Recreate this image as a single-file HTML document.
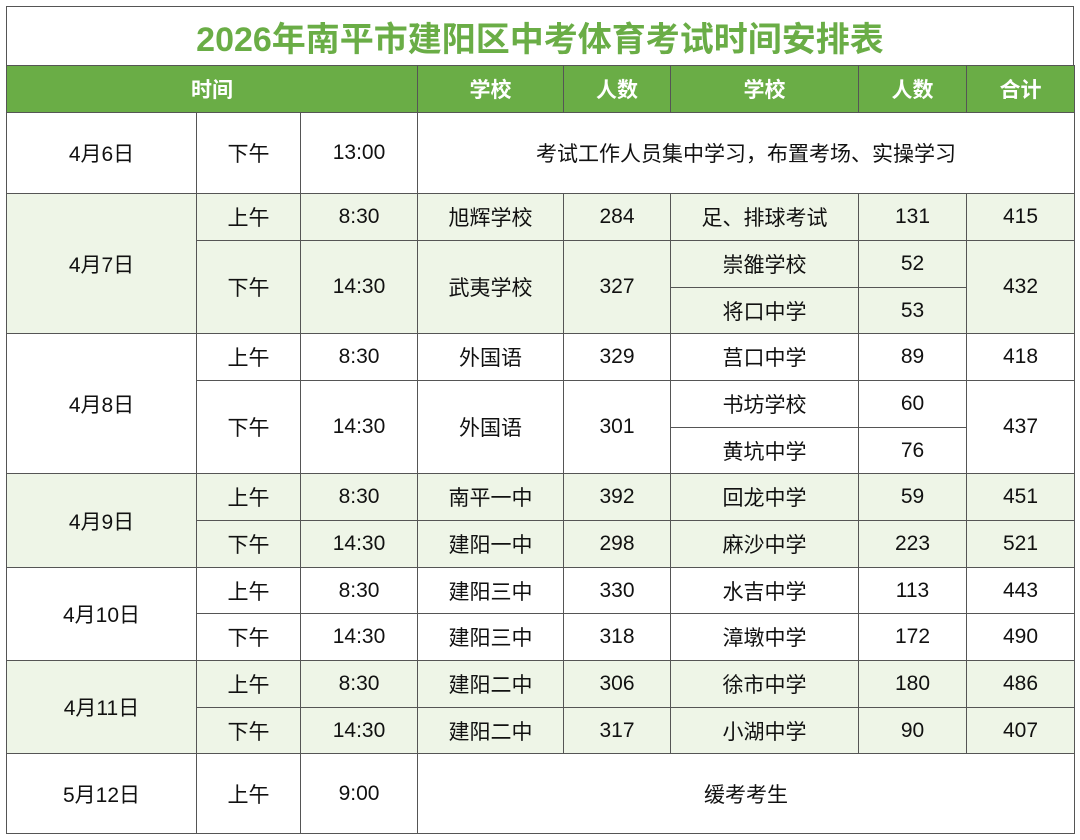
<!DOCTYPE html>
<html><head><meta charset="utf-8">
<style>
html,body{margin:0;padding:0;background:#fff;}
#wrap{position:relative;width:1080px;height:840px;overflow:hidden;background:#fff;font-family:"Liberation Sans","Noto Sans CJK SC",sans-serif;}
.cell{position:absolute;box-sizing:border-box;display:flex;align-items:center;justify-content:center;font-size:21px;color:#111;border:1px solid #555;margin:0;}
.hd{background:#6aad46;color:#fff;font-weight:bold;font-size:21px;}
#title{position:absolute;left:6px;top:6px;width:1068px;height:60px;box-sizing:border-box;border:1px solid #555;display:flex;align-items:center;justify-content:center;color:#6aad46;font-weight:bold;font-size:34px;}
.shade{position:absolute;background:#eef5e7;}
</style></head>
<body>
<div id="wrap">
<div id="title">2026年南平市建阳区中考体育考试时间安排表</div>
</div>
<script>
const X=[6,196,300,417,563,670,858,966,1074];
const Y=[112,193,240,287,333,380,427,473,520,567,613,660,707,753,833];
const shadeGroups=[[1,4],[7,9],[11,13]];
const headers=[[0,3,"时间"],[3,4,"学校"],[4,5,"人数"],[5,6,"学校"],[6,7,"人数"],[7,8,"合计"]];
const cells=[
[0,1,0,1,"4月6日"],[1,2,0,1,"下午"],[2,3,0,1,"13:00"],[3,8,0,1,"考试工作人员集中学习，布置考场、实操学习"],
[0,1,1,4,"4月7日"],[1,2,1,2,"上午"],[2,3,1,2,"8:30"],[3,4,1,2,"旭辉学校"],[4,5,1,2,"284"],[5,6,1,2,"足、排球考试"],[6,7,1,2,"131"],[7,8,1,2,"415"],
[1,2,2,4,"下午"],[2,3,2,4,"14:30"],[3,4,2,4,"武夷学校"],[4,5,2,4,"327"],[5,6,2,3,"崇雒学校"],[6,7,2,3,"52"],[5,6,3,4,"将口中学"],[6,7,3,4,"53"],[7,8,2,4,"432"],
[0,1,4,7,"4月8日"],[1,2,4,5,"上午"],[2,3,4,5,"8:30"],[3,4,4,5,"外国语"],[4,5,4,5,"329"],[5,6,4,5,"莒口中学"],[6,7,4,5,"89"],[7,8,4,5,"418"],
[1,2,5,7,"下午"],[2,3,5,7,"14:30"],[3,4,5,7,"外国语"],[4,5,5,7,"301"],[5,6,5,6,"书坊学校"],[6,7,5,6,"60"],[5,6,6,7,"黄坑中学"],[6,7,6,7,"76"],[7,8,5,7,"437"],
[0,1,7,9,"4月9日"],
[1,2,7,8,"上午"],[2,3,7,8,"8:30"],[3,4,7,8,"南平一中"],[4,5,7,8,"392"],[5,6,7,8,"回龙中学"],[6,7,7,8,"59"],[7,8,7,8,"451"],
[1,2,8,9,"下午"],[2,3,8,9,"14:30"],[3,4,8,9,"建阳一中"],[4,5,8,9,"298"],[5,6,8,9,"麻沙中学"],[6,7,8,9,"223"],[7,8,8,9,"521"],
[0,1,9,11,"4月10日"],
[1,2,9,10,"上午"],[2,3,9,10,"8:30"],[3,4,9,10,"建阳三中"],[4,5,9,10,"330"],[5,6,9,10,"水吉中学"],[6,7,9,10,"113"],[7,8,9,10,"443"],
[1,2,10,11,"下午"],[2,3,10,11,"14:30"],[3,4,10,11,"建阳三中"],[4,5,10,11,"318"],[5,6,10,11,"漳墩中学"],[6,7,10,11,"172"],[7,8,10,11,"490"],
[0,1,11,13,"4月11日"],
[1,2,11,12,"上午"],[2,3,11,12,"8:30"],[3,4,11,12,"建阳二中"],[4,5,11,12,"306"],[5,6,11,12,"徐市中学"],[6,7,11,12,"180"],[7,8,11,12,"486"],
[1,2,12,13,"下午"],[2,3,12,13,"14:30"],[3,4,12,13,"建阳二中"],[4,5,12,13,"317"],[5,6,12,13,"小湖中学"],[6,7,12,13,"90"],[7,8,12,13,"407"],
[0,1,13,14,"5月12日"],[1,2,13,14,"上午"],[2,3,13,14,"9:00"],[3,8,13,14,"缓考考生"]
];
const wrap=document.getElementById('wrap');
shadeGroups.forEach(g=>{
  const s=document.createElement('div');
  s.className='shade';
  
  
  s.style.cssText=`left:${X[0]}px;top:${Y[g[0]]}px;width:${X[8]-X[0]}px;height:${Y[g[1]]-Y[g[0]]}px;`;
  wrap.appendChild(s);
});
headers.forEach(h=>{
  const d=document.createElement('div');
  d.className='cell hd';
  
  
  d.style.cssText=`left:${X[h[0]]}px;top:65px;width:${X[h[1]]-X[h[0]]+1}px;height:${Y[0]-65+1}px;`;
  d.textContent=h[2];
  wrap.appendChild(d);
});
cells.forEach(c=>{
  const d=document.createElement('div');
  d.className='cell';
  
  
  d.style.cssText=`left:${X[c[0]]}px;top:${Y[c[2]]}px;width:${X[c[1]]-X[c[0]]+1}px;height:${Y[c[3]]-Y[c[2]]+1}px;`;
  d.textContent=c[4];
  wrap.appendChild(d);
});
</script>
</body></html>
